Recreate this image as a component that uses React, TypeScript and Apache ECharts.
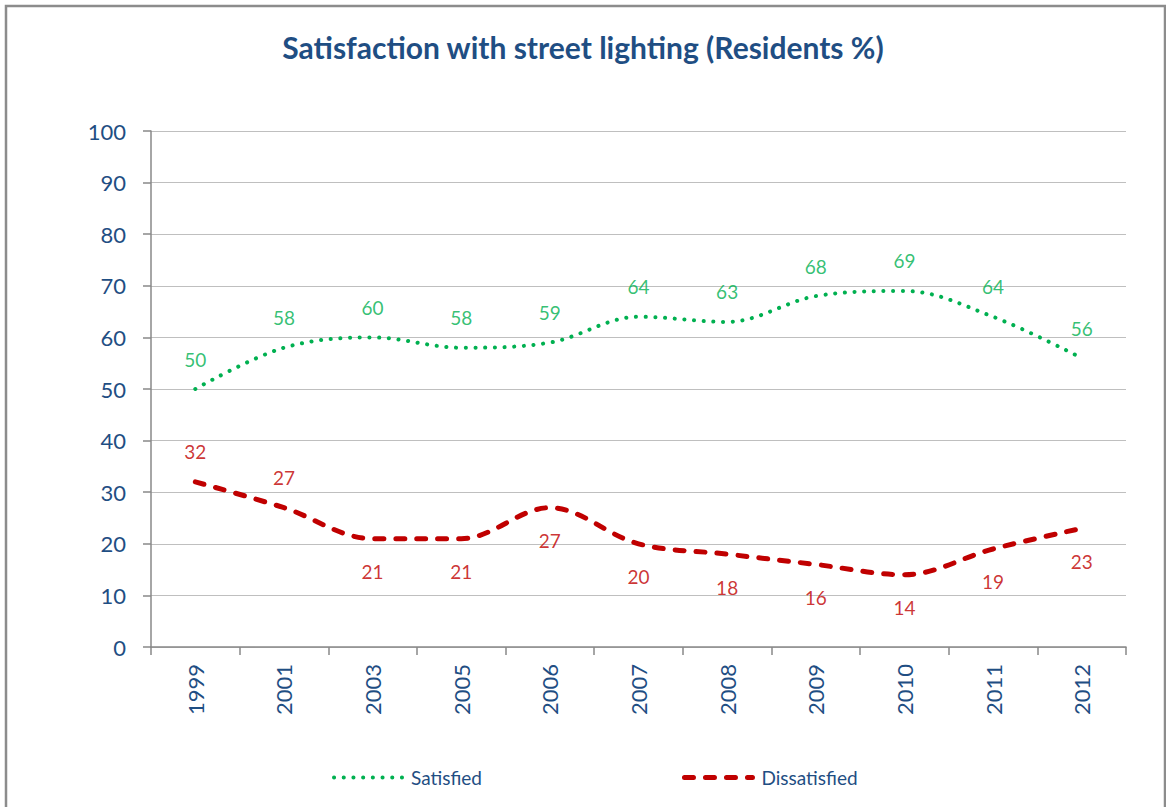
import React, { useEffect, useRef } from "react";
import * as echarts from "echarts";

const years = ["1999", "2001", "2003", "2005", "2006", "2007", "2008", "2009", "2010", "2011", "2012"];
const satisfied = [50, 58, 60, 58, 59, 64, 63, 68, 69, 64, 56];
const dissatisfied = [32, 27, 21, 21, 27, 20, 18, 16, 14, 19, 23];
const dissatisfiedLabelPos = ["top", "top", "bottom", "bottom", "bottom", "bottom", "bottom", "bottom", "bottom", "bottom", "bottom"];

const FONT = "Lato, 'Open Sans', sans-serif";
const BLUE = "#1f4e83";
const GREEN = "#00b050";
const RED = "#c00000";
const SAT_LINE = { color: GREEN, width: 4, type: [0.1, 9.6], cap: "round" };
const DIS_LINE = { color: RED, width: 5, type: [9, 12], cap: "round" };

export default function App() {
  const ref = useRef<HTMLDivElement>(null);
  useEffect(() => {
    document.body.style.margin = "0";
    const chart = echarts.init(ref.current!, null, { renderer: "svg" });
    chart.setOption({
      animation: false,
      backgroundColor: "#ffffff",
      title: {
        text: "Satisfaction with street lighting (Residents %)",
        left: "center",
        top: 27,
        textStyle: { fontFamily: FONT, fontSize: 30, fontWeight: "bold", color: BLUE },
      },
      graphic: [
        {
          type: "rect",
          shape: { x: 6, y: 6, width: 1159, height: 820 },
          style: { fill: "none", stroke: "#8c8c8c", lineWidth: 2.5 },
          silent: true,
        },
      ],
      legend: {
        left: 327,
        top: 763,
        itemWidth: 68,
        itemHeight: 16,
        itemGap: 200,
        itemStyle: { opacity: 0 },
        textStyle: { fontFamily: FONT, fontSize: 19, color: BLUE, padding: [0, 0, 0, 4] },
        data: [
          { name: "Satisfied", lineStyle: SAT_LINE, itemStyle: { opacity: 0 } },
          { name: "Dissatisfied", lineStyle: DIS_LINE, itemStyle: { opacity: 0 } },
        ],
      },
      grid: { left: 151, right: 40, top: 131, bottom: 160, containLabel: false },
      xAxis: {
        type: "category",
        data: years,
        boundaryGap: true,
        axisLine: { lineStyle: { color: "#888888", width: 1.5 } },
        axisTick: { show: true, length: 8, lineStyle: { color: "#888888", width: 1.5 } },
        axisLabel: { rotate: 90, margin: 17, fontFamily: FONT, fontSize: 22, color: BLUE },
      },
      yAxis: {
        type: "value",
        min: 0,
        max: 100,
        interval: 10,
        axisLine: { show: true, lineStyle: { color: "#888888", width: 1.5 } },
        axisTick: { show: true, length: 8, lineStyle: { color: "#888888", width: 1.5 } },
        axisLabel: { margin: 25, fontFamily: FONT, fontSize: 22, color: BLUE },
        splitLine: { lineStyle: { color: "#bfbfbf", width: 1.2 } },
      },
      series: [
        {
          name: "Satisfied",
          type: "line",
          data: satisfied,
          smooth: 0.35,
          symbol: "none",
          lineStyle: SAT_LINE,
          itemStyle: { color: GREEN },
          z: 3,
        },
        {
          name: "Dissatisfied",
          type: "line",
          data: dissatisfied,
          smooth: 0.35,
          symbol: "none",
          lineStyle: DIS_LINE,
          itemStyle: { color: RED },
          z: 3,
        },
        {
          name: "SatisfiedLabels",
          type: "scatter",
          data: satisfied,
          symbol: "circle",
          symbolSize: 1,
          itemStyle: { color: "rgba(0,0,0,0)" },
          silent: true,
          label: {
            show: true,
            position: "top",
            distance: 20,
            fontFamily: FONT,
            fontSize: 19,
            color: GREEN,
          },
        },
        {
          name: "DissatisfiedLabels",
          type: "scatter",
          data: dissatisfied.map((v, i) => ({
            value: v,
            label: { position: dissatisfiedLabelPos[i], distance: dissatisfiedLabelPos[i] === "top" ? 20 : 23 },
          })),
          symbol: "circle",
          symbolSize: 1,
          itemStyle: { color: "rgba(0,0,0,0)" },
          silent: true,
          label: {
            show: true,
            fontFamily: FONT,
            fontSize: 19,
            color: RED,
          },
        },
      ],
    });
    return () => chart.dispose();
  }, []);
  return <div ref={ref} style={{ position: "absolute", left: 0, top: 0, width: 1166, height: 807 }} />;
}
